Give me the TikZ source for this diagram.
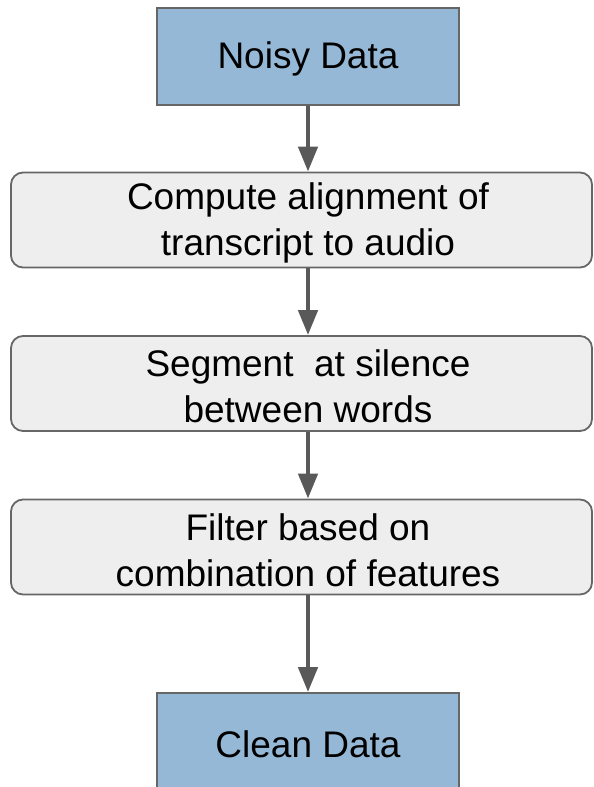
\documentclass[tikz,border=0pt]{standalone}
\usepackage{fontspec}
\setmainfont{Liberation Sans}
\usetikzlibrary{arrows.meta}
\definecolor{datablue}{HTML}{95B8D6}
\definecolor{stepgray}{HTML}{EEEEEE}
\definecolor{edgegray}{HTML}{666666}
\definecolor{arrowgray}{HTML}{595959}
\tikzset{
  databox/.style={draw=edgegray, line width=1.8pt, fill=datablue,
    minimum width=302pt, minimum height=97pt, inner sep=0pt},
  procbox/.style={draw=edgegray, line width=1.8pt, fill=stepgray,
    rounded corners=12pt, minimum width=581pt, minimum height=95pt, inner sep=0pt},
  boxtext/.style={align=center, inner sep=0pt,
    font=\fontsize{37pt}{46pt}\selectfont},
  flow/.style={draw=arrowgray, line width=4.5pt,
    -{Triangle[length=25pt,width=19pt]}}
}
\begin{document}
\begin{tikzpicture}[x=1pt,y=-1pt]
  \useasboundingbox (0,0) rectangle (594,787);
  \clip (0,0) rectangle (594,787);

  % input and output data boxes
  \node[databox] (noisy) at (308,56.5) {};
  \node[boxtext] at (308,59) {Noisy Data};
  \node[databox] (clean) at (308,741.5) {};
  \node[boxtext] at (308,744) {Clean Data};

  % processing steps
  \node[procbox] (align) at (301.5,220) {};
  \node[boxtext] at (308,223) {Compute alignment of\\transcript to audio};
  \node[procbox] (segment) at (301.5,383.5) {};
  \node[boxtext] at (308,386) {Segment\ \ at silence\\between words};
  \node[procbox] (filter) at (301.5,547) {};
  \node[boxtext] at (308,550) {Filter based on\\combination of features};

  % connectors
  \draw[flow] (noisy.south) -- (noisy.south |- align.north);
  \draw[flow] (noisy.south |- align.south) -- (noisy.south |- segment.north);
  \draw[flow] (noisy.south |- segment.south) -- (noisy.south |- filter.north);
  \draw[flow] (noisy.south |- filter.south) -- (clean.north);
\end{tikzpicture}
\end{document}
